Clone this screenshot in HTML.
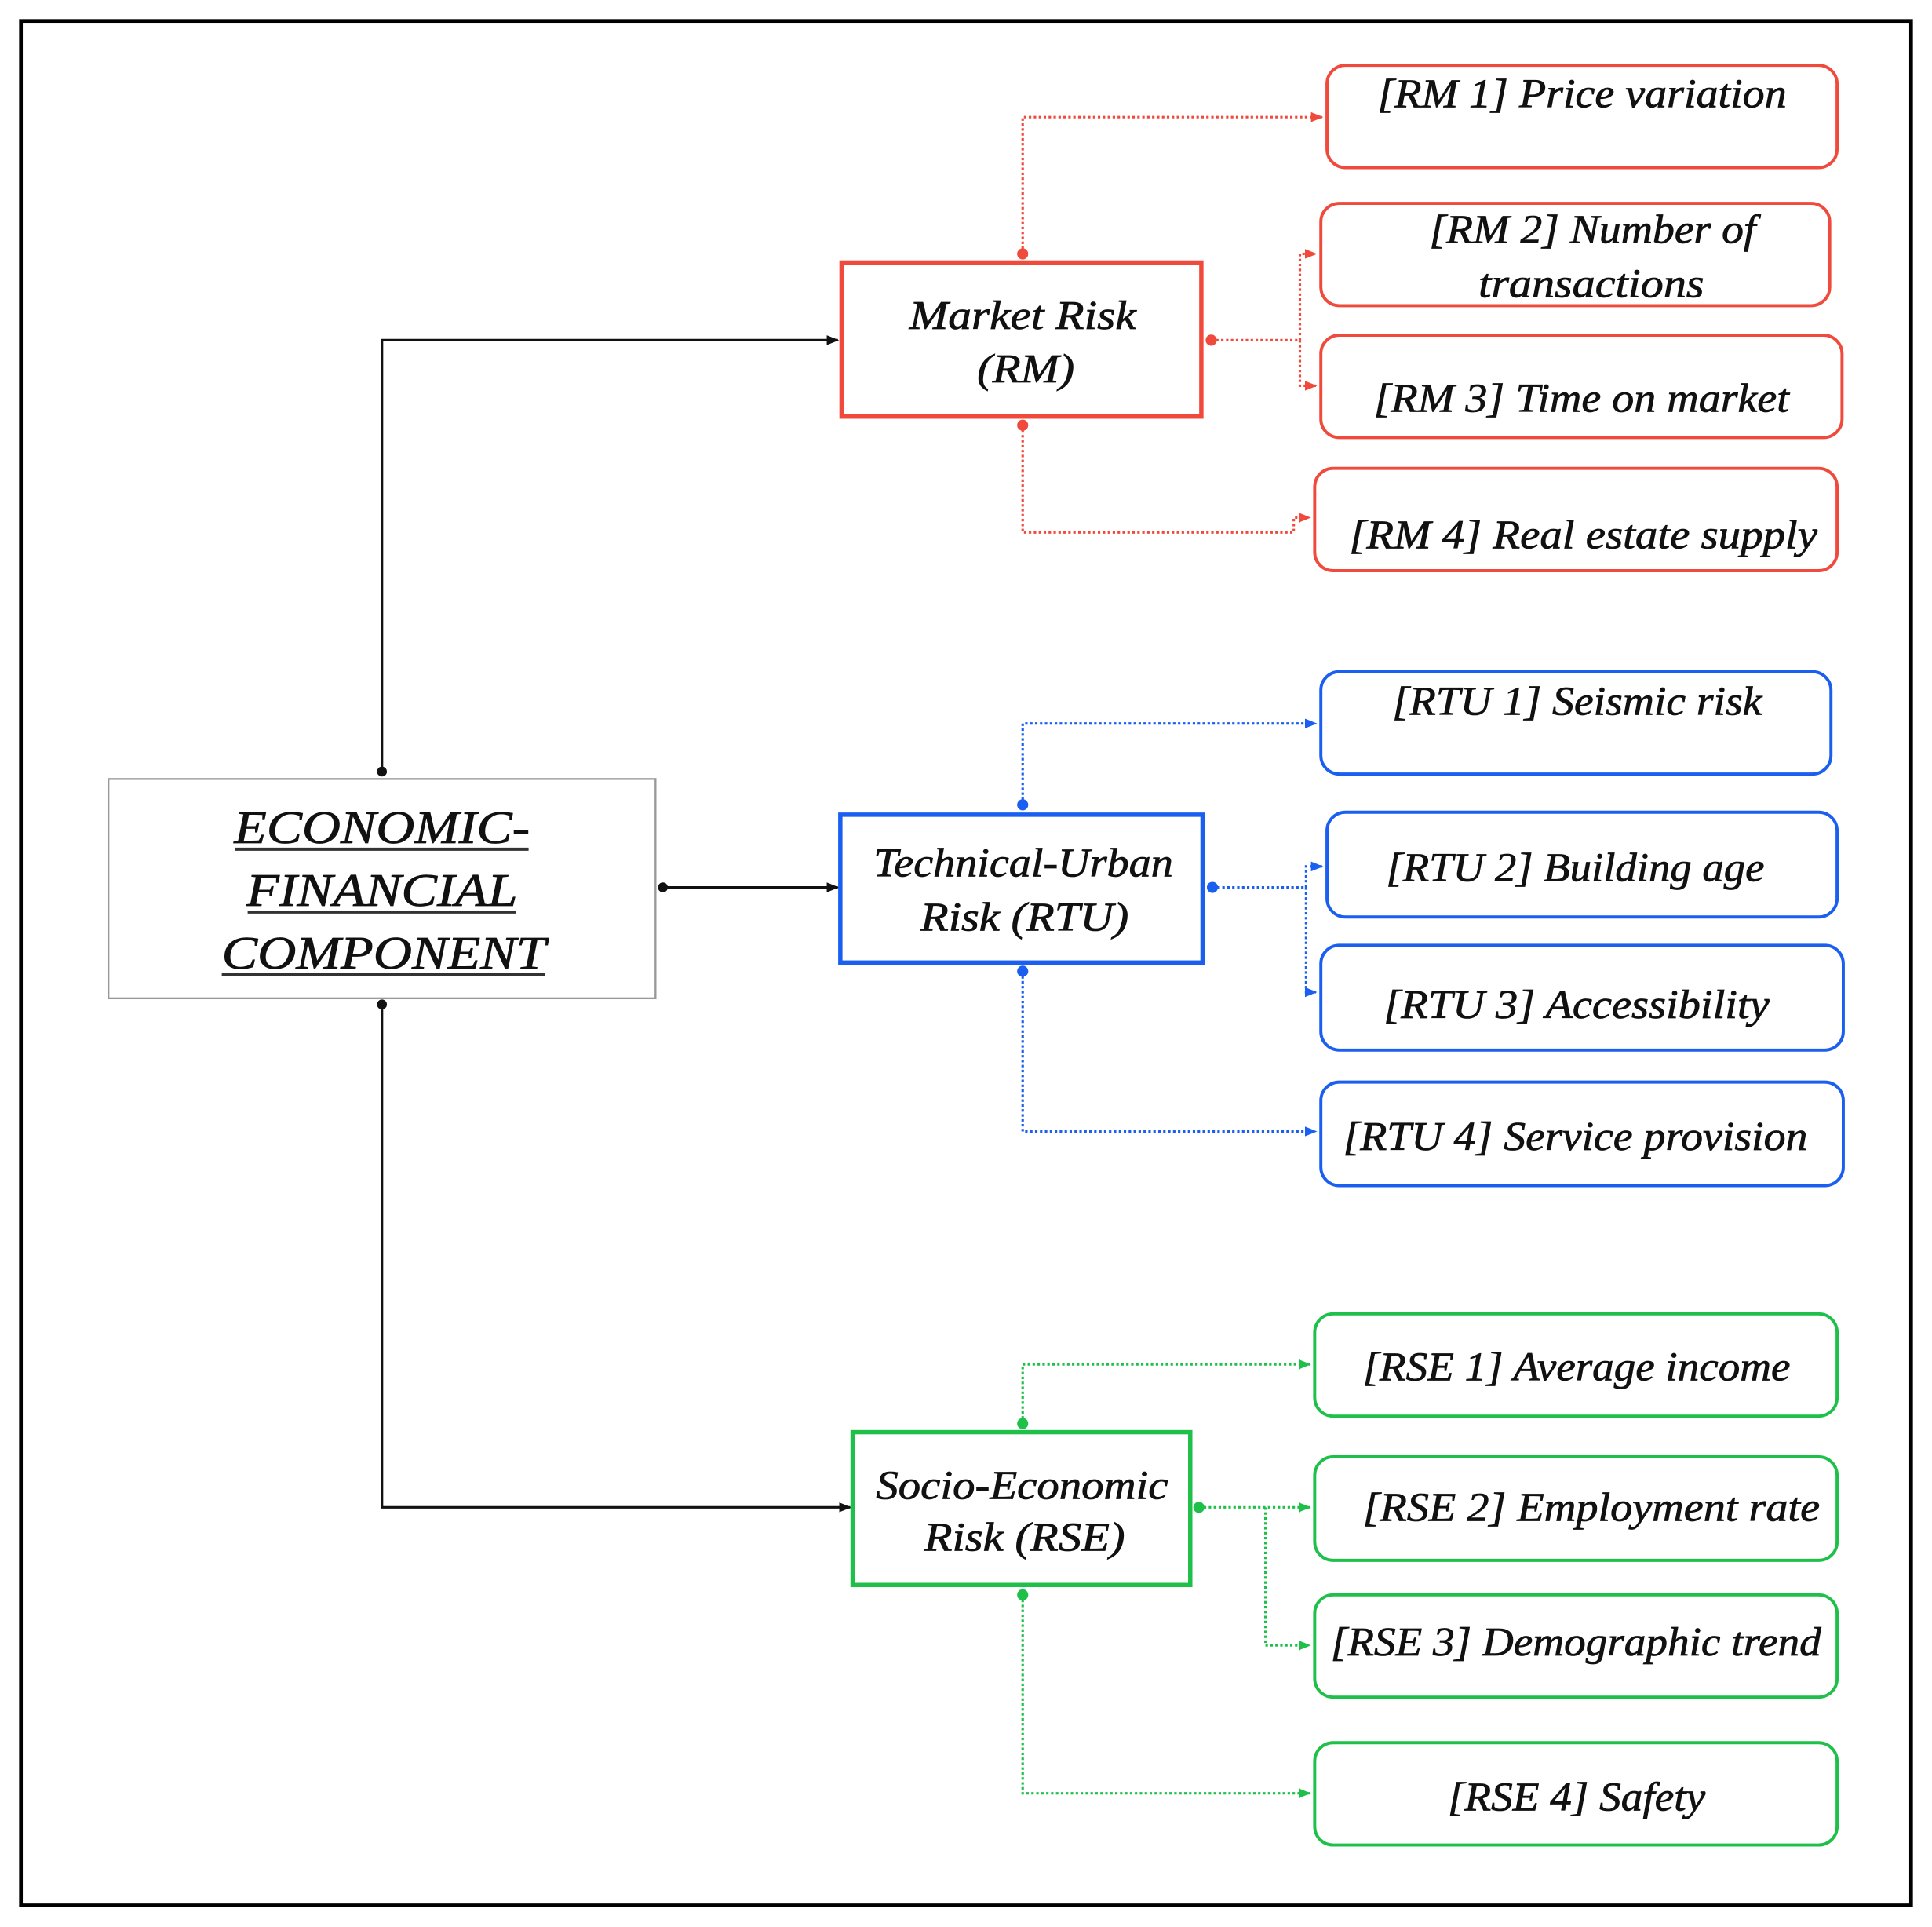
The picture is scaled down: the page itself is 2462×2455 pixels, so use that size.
<!DOCTYPE html>
<html><head><meta charset="utf-8"><style>
html,body{margin:0;padding:0;background:#fff}
svg{display:block}
text{font-family:"Liberation Serif",serif;font-style:italic;fill:#111;stroke:#111;stroke-width:0.5}
</style></head><body>
<svg width="2462" height="2455" viewBox="0 0 1568 1563.5" preserveAspectRatio="none" xmlns="http://www.w3.org/2000/svg">
<defs>
<marker id="ak" markerWidth="10" markerHeight="10" refX="9" refY="5" orient="auto" markerUnits="userSpaceOnUse"><path d="M0,1 L10,5 L0,9 Z" fill="#111"/></marker>
<marker id="ar" markerWidth="10" markerHeight="10" refX="9" refY="5" orient="auto" markerUnits="userSpaceOnUse"><path d="M0,1 L10,5 L0,9 Z" fill="#f04a3c"/></marker>
<marker id="ab" markerWidth="10" markerHeight="10" refX="9" refY="5" orient="auto" markerUnits="userSpaceOnUse"><path d="M0,1 L10,5 L0,9 Z" fill="#1a5ff0"/></marker>
<marker id="ag" markerWidth="10" markerHeight="10" refX="9" refY="5" orient="auto" markerUnits="userSpaceOnUse"><path d="M0,1 L10,5 L0,9 Z" fill="#1fc04a"/></marker>
</defs>
<rect x="17" y="17" width="1534" height="1529" fill="none" stroke="#000" stroke-width="3"/>

<!-- main -->
<rect x="88" y="632" width="444" height="178" fill="#fff" stroke="#999" stroke-width="1.5"/>
<g font-size="38" lengthAdjust="spacingAndGlyphs">
<text x="190" y="684" textLength="240" lengthAdjust="spacingAndGlyphs">ECONOMIC-</text>
<text x="200" y="735" textLength="220" lengthAdjust="spacingAndGlyphs">FINANCIAL</text>
<text x="180" y="786" textLength="263" lengthAdjust="spacingAndGlyphs">COMPONENT</text>
</g>
<line x1="191" y1="689" x2="429" y2="689" stroke="#333" stroke-width="2.5"/>
<line x1="201" y1="740" x2="419" y2="740" stroke="#333" stroke-width="2.5"/>
<line x1="180" y1="791" x2="442" y2="791" stroke="#333" stroke-width="2.5"/>

<g stroke="#111" stroke-width="2" fill="none">
<polyline points="310,626 310,276 680,276" marker-end="url(#ak)"/>
<polyline points="538,720 680,720" marker-end="url(#ak)"/>
<polyline points="310,815 310,1223 690,1223" marker-end="url(#ak)"/>
</g>
<g fill="#111"><circle cx="310" cy="626" r="4"/><circle cx="538" cy="720" r="4"/><circle cx="310" cy="815" r="4"/></g>

<!-- RM -->
<g stroke="#f04a3c" stroke-width="2" fill="none" stroke-dasharray="2,2">
<polyline points="830,206 830,95 1073,95" marker-end="url(#ar)"/>
<polyline points="983,276 1055,276"/>
<polyline points="1055,276 1055,206 1068,206" marker-end="url(#ar)"/>
<polyline points="1055,276 1055,313 1068,313" marker-end="url(#ar)"/>
<polyline points="830,345 830,432 1050,432 1050,420 1063,420" marker-end="url(#ar)"/>
</g>
<g fill="#f04a3c"><circle cx="830" cy="206" r="4.5"/><circle cx="983" cy="276" r="4.5"/><circle cx="830" cy="345" r="4.5"/></g>
<rect x="683" y="213" width="292" height="125" fill="#fff" stroke="#f04a3c" stroke-width="3.5"/>
<g font-size="33">
<text x="738" y="267" textLength="184" lengthAdjust="spacingAndGlyphs">Market Risk</text>
<text x="793" y="310" textLength="79" lengthAdjust="spacingAndGlyphs">(RM)</text>
</g>
<g fill="none" stroke="#f04a3c" stroke-width="2.5">
<rect x="1077" y="53" width="414" height="83" rx="15"/>
<rect x="1072" y="165" width="413" height="83" rx="15"/>
<rect x="1072" y="272" width="423" height="83" rx="15"/>
<rect x="1067" y="380" width="424" height="83" rx="15"/>
</g>
<g font-size="33">
<text x="1118" y="87" textLength="332" lengthAdjust="spacingAndGlyphs">[RM 1] Price variation</text>
<text x="1160" y="197" textLength="265" lengthAdjust="spacingAndGlyphs">[RM 2] Number of</text>
<text x="1200" y="241" textLength="183" lengthAdjust="spacingAndGlyphs">transactions</text>
<text x="1115" y="334" textLength="337" lengthAdjust="spacingAndGlyphs">[RM 3] Time on market</text>
<text x="1095" y="445" textLength="380" lengthAdjust="spacingAndGlyphs">[RM 4] Real estate supply</text>
</g>

<!-- RTU -->
<g stroke="#1a5ff0" stroke-width="2" fill="none" stroke-dasharray="2,2">
<polyline points="830,653 830,587 1068,587" marker-end="url(#ab)"/>
<polyline points="984,720 1060,720"/>
<polyline points="1060,720 1060,703 1073,703" marker-end="url(#ab)"/>
<polyline points="1060,720 1060,805 1068,805" marker-end="url(#ab)"/>
<polyline points="830,788 830,918 1068,918" marker-end="url(#ab)"/>
</g>
<g fill="#1a5ff0"><circle cx="830" cy="653" r="4.5"/><circle cx="984" cy="720" r="4.5"/><circle cx="830" cy="788" r="4.5"/></g>
<rect x="682" y="661" width="294" height="120" fill="#fff" stroke="#1a5ff0" stroke-width="3.5"/>
<g font-size="33">
<text x="709" y="711" textLength="243" lengthAdjust="spacingAndGlyphs">Technical-Urban</text>
<text x="747" y="755" textLength="169" lengthAdjust="spacingAndGlyphs">Risk (RTU)</text>
</g>
<g fill="none" stroke="#1a5ff0" stroke-width="2.5">
<rect x="1072" y="545" width="414" height="83" rx="15"/>
<rect x="1077" y="659" width="414" height="85" rx="15"/>
<rect x="1072" y="767" width="424" height="85" rx="15"/>
<rect x="1072" y="878" width="424" height="84" rx="15"/>
</g>
<g font-size="33">
<text x="1130" y="580" textLength="300" lengthAdjust="spacingAndGlyphs">[RTU 1] Seismic risk</text>
<text x="1125" y="715" textLength="307" lengthAdjust="spacingAndGlyphs">[RTU 2] Building age</text>
<text x="1123" y="826" textLength="313" lengthAdjust="spacingAndGlyphs">[RTU 3] Accessibility</text>
<text x="1090" y="933" textLength="377" lengthAdjust="spacingAndGlyphs">[RTU 4] Service provision</text>
</g>

<!-- RSE -->
<g stroke="#1fc04a" stroke-width="2" fill="none" stroke-dasharray="2,2">
<polyline points="830,1155 830,1107 1063,1107" marker-end="url(#ag)"/>
<polyline points="973,1223 1063,1223" marker-end="url(#ag)"/>
<polyline points="1027,1223 1027,1335 1063,1335" marker-end="url(#ag)"/>
<polyline points="830,1294 830,1455 1063,1455" marker-end="url(#ag)"/>
</g>
<g fill="#1fc04a"><circle cx="830" cy="1155" r="4.5"/><circle cx="973" cy="1223" r="4.5"/><circle cx="830" cy="1294" r="4.5"/></g>
<rect x="692" y="1162" width="274" height="124" fill="#fff" stroke="#1fc04a" stroke-width="3.5"/>
<g font-size="33">
<text x="711" y="1216" textLength="237" lengthAdjust="spacingAndGlyphs">Socio-Economic</text>
<text x="750" y="1258" textLength="163" lengthAdjust="spacingAndGlyphs">Risk (RSE)</text>
</g>
<g fill="none" stroke="#1fc04a" stroke-width="2.5">
<rect x="1067" y="1066" width="424" height="83" rx="15"/>
<rect x="1067" y="1182" width="424" height="84" rx="15"/>
<rect x="1067" y="1294" width="424" height="83" rx="15"/>
<rect x="1067" y="1414" width="424" height="83" rx="15"/>
</g>
<g font-size="33">
<text x="1106" y="1120" textLength="347" lengthAdjust="spacingAndGlyphs">[RSE 1] Average income</text>
<text x="1106" y="1234" textLength="371" lengthAdjust="spacingAndGlyphs">[RSE 2] Employment rate</text>
<text x="1080" y="1343" textLength="398" lengthAdjust="spacingAndGlyphs">[RSE 3] Demographic trend</text>
<text x="1175" y="1469" textLength="209" lengthAdjust="spacingAndGlyphs">[RSE 4] Safety</text>
</g>
</svg>
</body></html>
